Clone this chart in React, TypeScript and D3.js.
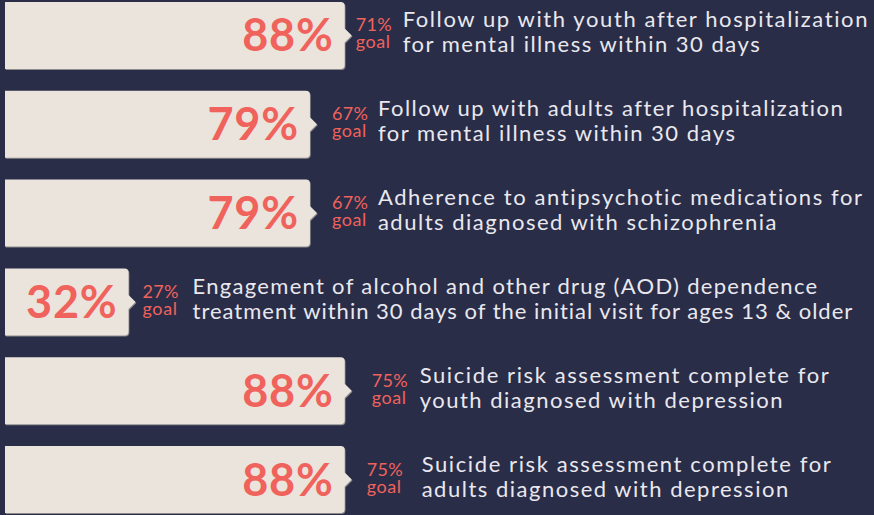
import React from "react";
import * as d3 from "d3";

// ---- data ----
const measures: string[] = [
  "youth-followup",
  "adult-followup",
  "antipsychotic",
  "aod",
  "suicide-youth",
  "suicide-adult",
];
const actualValues: number[] = [88, 79, 79, 32, 88, 88];
const goalValues: number[] = [71, 67, 67, 27, 75, 75];
const descLine1: string[] = [
  "Follow up with youth after hospitalization",
  "Follow up with adults after hospitalization",
  "Adherence to antipsychotic medications for",
  "Engagement of alcohol and other drug (AOD) dependence",
  "Suicide risk assessment complete for",
  "Suicide risk assessment complete for",
];
const descLine2: string[] = [
  "for mental illness within 30 days",
  "for mental illness within 30 days",
  "adults diagnosed with schizophrenia",
  "treatment within 30 days of the initial visit for ages 13 & older",
  "youth diagnosed with depression",
  "adults diagnosed with depression",
];

// ---- layout (hand-placed label offsets, relative to bar end) ----
const goalDx = [11, 22, 22, 14, 27, 22];
const descDx = [58, 68, 68, 64, 75, 77];
const spacing1 = [1.6, 1.5, 1.6, 1.3, 1.6, 1.6];
const spacing2 = [1.5, 1.5, 1.5, 1.0, 1.5, 1.5];

const W = 874;
const H = 515;
const BG = "#292d48";
const BAR = "#ebe4dd";
const RED = "#f0625c";
const TXT = "#e9e8ee";

export default function App() {
  const x = d3.scaleLinear().domain([0, 100]).range([0, 386]);
  const y = d3
    .scaleBand<string>()
    .domain(measures)
    .range([2, 513])
    .paddingInner(0.2455)
    .paddingOuter(0);
  const bw = y.bandwidth();
  const x0 = 5;
  const r = 4;

  const barPath = (x1: number, top: number, h: number) => {
    const cy = top + h / 2;
    const p = d3.path();
    p.moveTo(x0, top);
    p.lineTo(x1 - r, top);
    p.quadraticCurveTo(x1, top, x1, top + r);
    p.lineTo(x1, cy - 7);
    p.lineTo(x1 + 7, cy);
    p.lineTo(x1, cy + 7);
    p.lineTo(x1, top + h - r);
    p.quadraticCurveTo(x1, top + h, x1 - r, top + h);
    p.lineTo(x0, top + h);
    p.closePath();
    return p.toString();
  };

  return (
    <svg
      width={W}
      height={H}
      style={{ position: "absolute", left: 0, top: 0, display: "block" }}
    >
      <rect x={0} y={0} width={W} height={H} fill={BG} />
      {measures.map((m, i) => {
        const top = y(m)!;
        const cy = top + bw / 2;
        const x1 = x0 + x(actualValues[i]);
        return (
          <g key={m}>
            <path
              d={barPath(x1, top, bw)}
              fill="#8d8b8c"
              transform="translate(0.8,1)"
            />
            <path d={barPath(x1, top, bw)} fill={BAR} />
            <text
              x={x1 - 11}
              y={cy + 16}
              textAnchor="end"
              fill={RED}
              fontFamily="Lato"
              fontWeight={700}
              fontSize={45}
              letterSpacing={0.8}
            >
              {actualValues[i]}%
            </text>
            <text
              x={x1 + goalDx[i]}
              y={cy - 4}
              fill={RED}
              fontFamily="Lato"
              fontSize={18}
              letterSpacing={0.3}
            >
              {goalValues[i]}%
            </text>
            <text
              x={x1 + goalDx[i]}
              y={cy + 13}
              fill={RED}
              fontFamily="Lato"
              fontSize={18}
              letterSpacing={0.6}
            >
              goal
            </text>
            <text
              x={x1 + descDx[i]}
              y={cy - 8}
              fill={TXT}
              fontFamily="Lato"
              fontSize={22}
              letterSpacing={spacing1[i]}
            >
              {descLine1[i]}
            </text>
            <text
              x={x1 + descDx[i]}
              y={cy + 17}
              fill={TXT}
              fontFamily="Lato"
              fontSize={22}
              letterSpacing={spacing2[i]}
            >
              {descLine2[i]}
            </text>
          </g>
        );
      })}
    </svg>
  );
}
